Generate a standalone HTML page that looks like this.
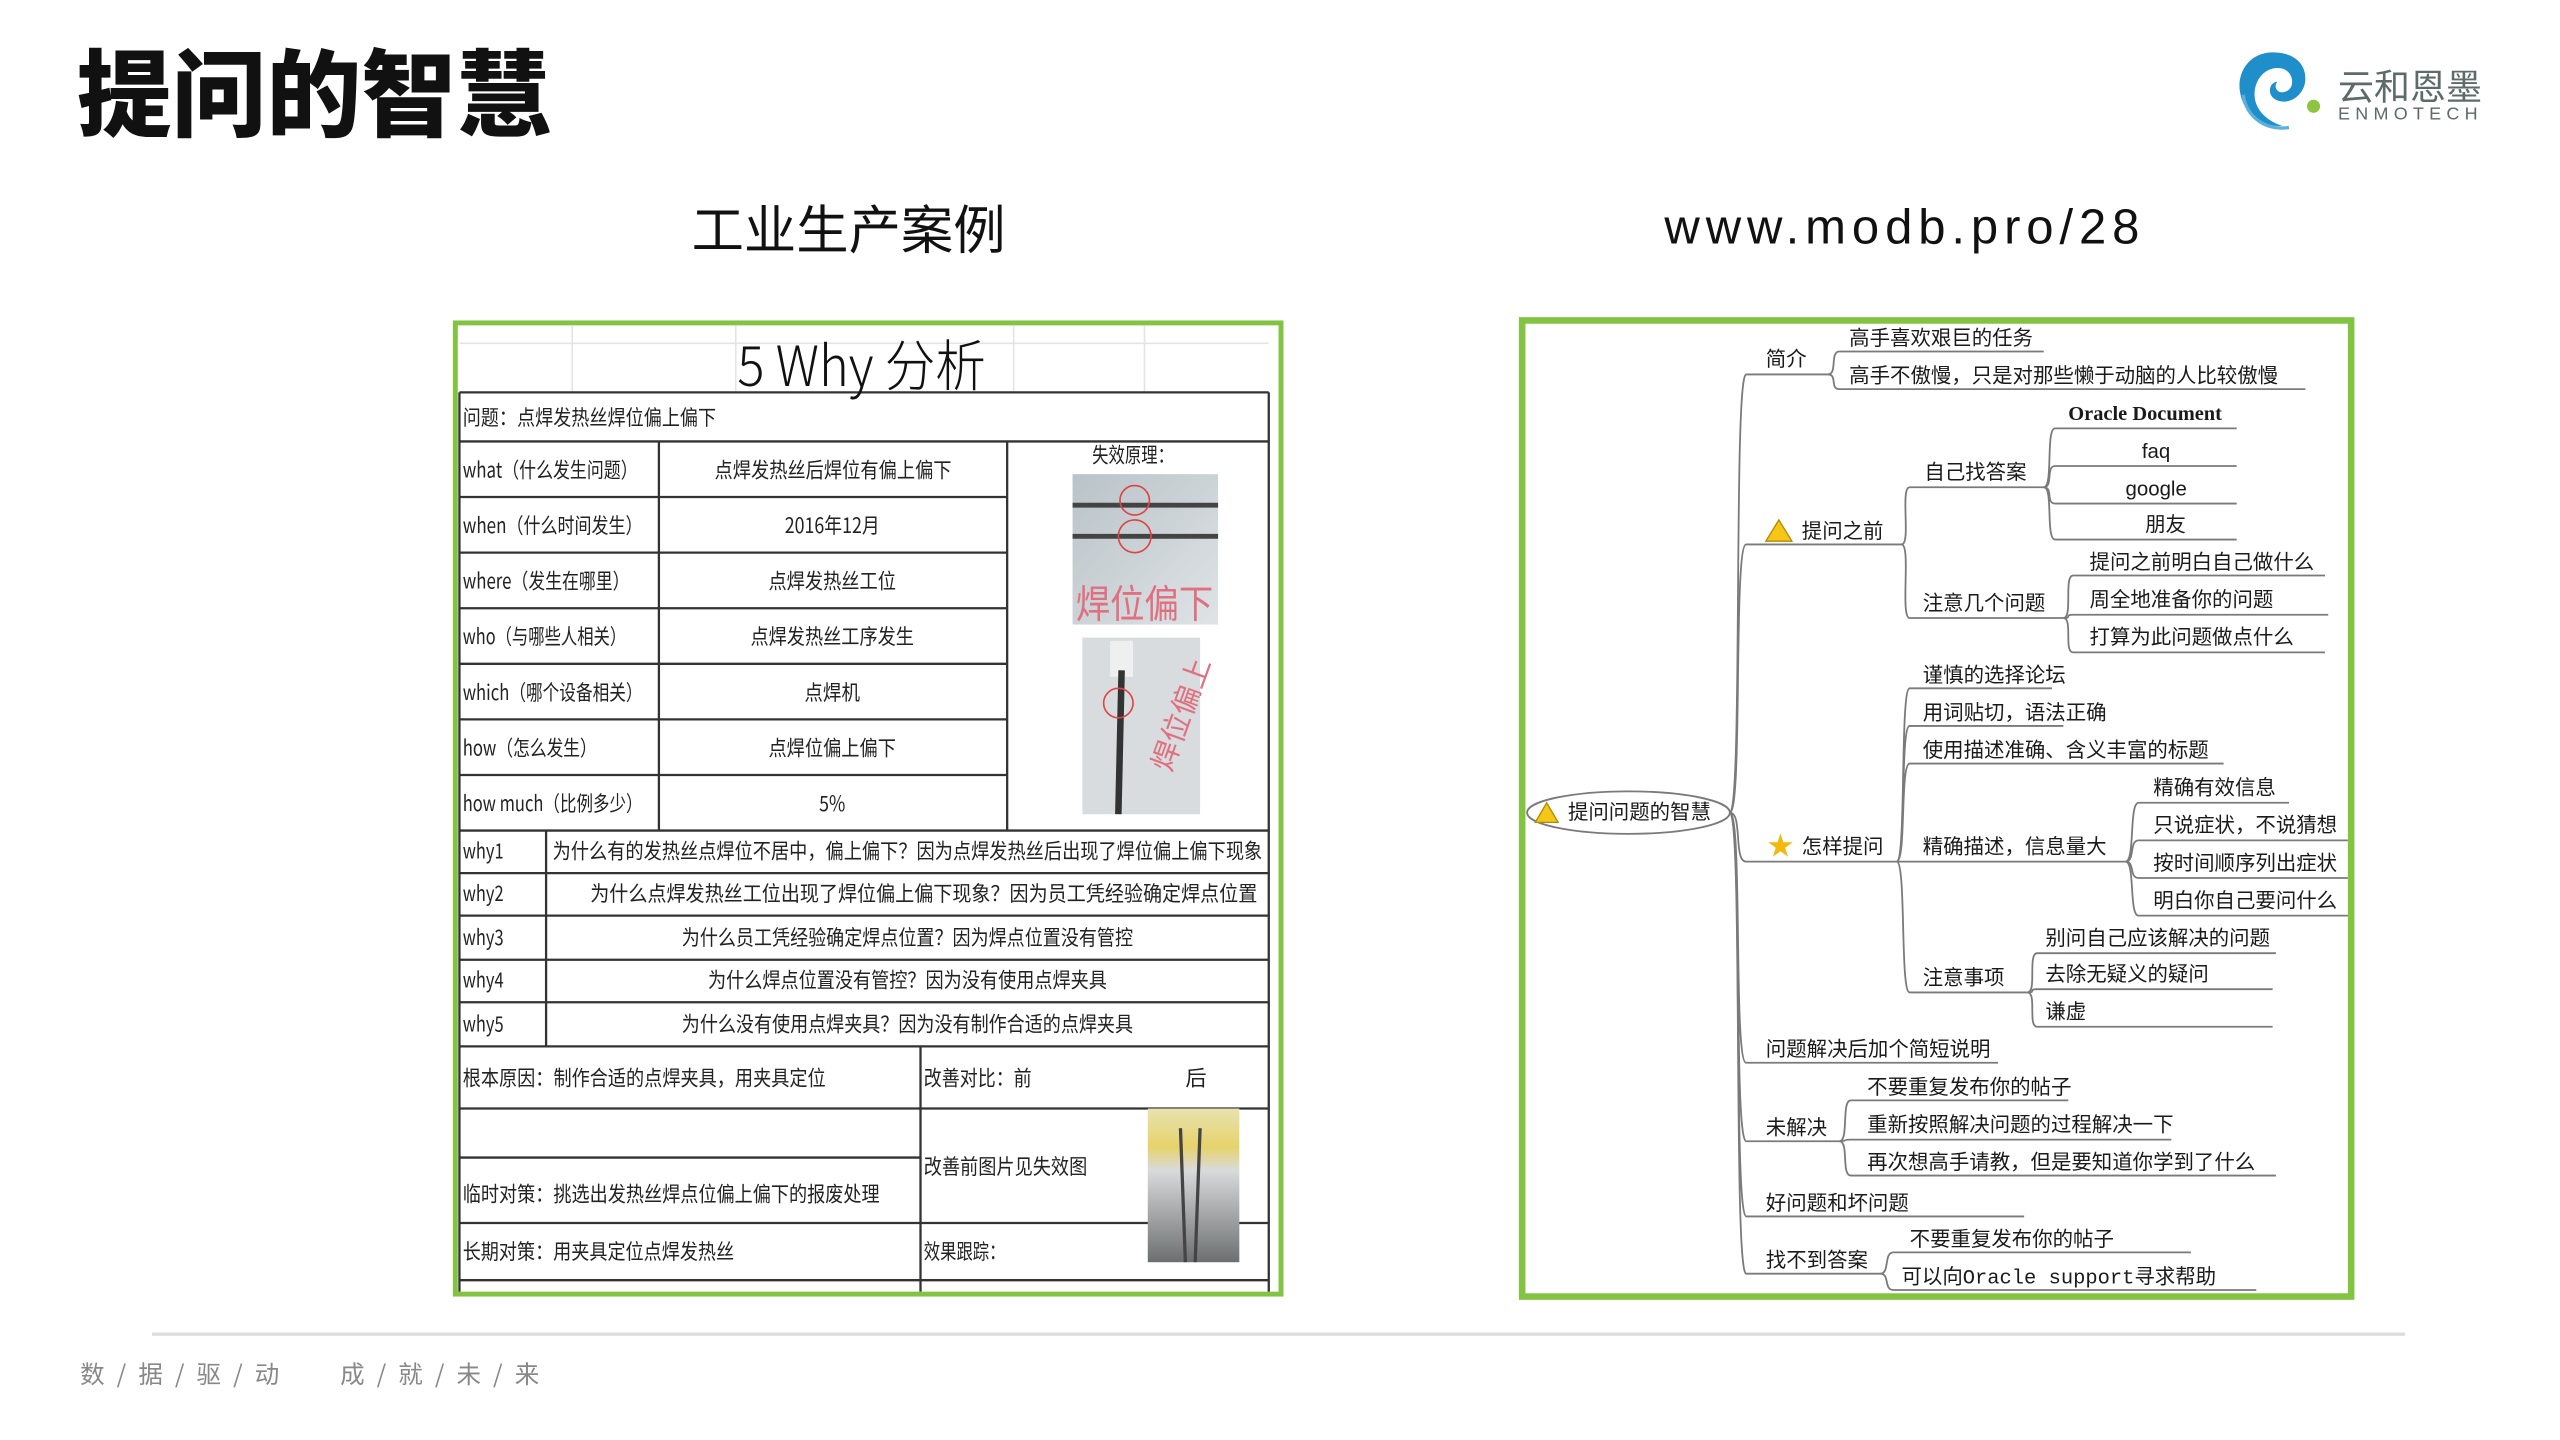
<!DOCTYPE html>
<html><head><meta charset="utf-8">
<style>
html,body{margin:0;padding:0;background:#fff;}
body{width:2560px;height:1440px;overflow:hidden;position:relative;}
#w{position:absolute;left:0;top:0;width:1566px;height:881px;transform:scale(1.635);transform-origin:0 0;font-family:"Liberation Sans","Noto Sans CJK SC",sans-serif;}
.a{position:absolute;white-space:nowrap;}
</style></head><body><div id="w">
<div class="a" style="left:47px;top:14px;font-size:58px;font-weight:900;font-family:'Noto Sans CJK SC',sans-serif;color:#111;line-height:80px;">提问的智慧</div>
<div class="a" style="left:423px;top:116px;font-size:32px;font-family:'Noto Sans CJK SC',sans-serif;color:#111;line-height:46px;">工业生产案例</div>
<div class="a" style="left:1018px;top:120px;font-size:30px;letter-spacing:3.6px;color:#111;line-height:40px;">www.modb.pro/28</div>
<svg class="a" style="left:1366px;top:28px" width="56" height="54" viewBox="0 0 56 54">
<path d="M24 4 C10 4 2 16 4 28 C6 42 18 50 30 49 C20 46 12 38 13 28 C14 18 22 12 30 14 C37 16 38 26 32 28 C27 30 24 25 27 22 C22 22 20 30 26 33 C34 37 44 30 44 20 C44 10 36 4 24 4Z" fill="#1f8fcb"/>
<path d="M6 30 C8 44 20 52 34 50" stroke="#5bb0dd" stroke-width="2" fill="none"/>
<circle cx="49" cy="37" r="4" fill="#8cc63f"/>
</svg>
<div class="a" style="left:1430px;top:38px;font-size:22px;color:#5d6a6a;font-family:'Noto Sans CJK SC',sans-serif;line-height:28px;">云和恩墨</div>
<div class="a" style="left:1430px;top:64px;font-size:11px;color:#5d6a6a;letter-spacing:3.2px;line-height:12px;">ENMOTECH</div>
<div class="a" style="left:93px;top:815px;width:1378px;height:2px;background:#dcdcdc;"></div>
<div class="a" style="left:49px;top:830px;font-size:15px;letter-spacing:2px;color:#888;font-family:'Noto Sans CJK SC',sans-serif;line-height:22px;">数 / 据 / 驱 / 动</div>
<div class="a" style="left:208px;top:830px;font-size:15px;letter-spacing:2px;color:#888;font-family:'Noto Sans CJK SC',sans-serif;line-height:22px;">成 / 就 / 未 / 来</div>

<svg class="a" style="left:0;top:0" width="1549" height="872" viewBox="0 0 1549 872" font-family="'Noto Sans CJK SC',sans-serif" fill="#222">
<rect x="278.5" y="197.5" width="505" height="594" fill="#fff" stroke="#82c341" stroke-width="3"/>
<g stroke="#e4e4e4" stroke-width="1"><line x1="281" y1="210" x2="776" y2="210"/><line x1="350" y1="199" x2="350" y2="240"/><line x1="450" y1="199" x2="450" y2="240"/><line x1="620" y1="199" x2="620" y2="240"/><line x1="700" y1="199" x2="700" y2="240"/></g>
<g stroke="#333" stroke-width="1.4">
<line x1="281" y1="240" x2="776" y2="240"/><line x1="281" y1="270" x2="776" y2="270"/>
<line x1="281" y1="304" x2="616" y2="304"/><line x1="281" y1="338" x2="616" y2="338"/><line x1="281" y1="372" x2="616" y2="372"/><line x1="281" y1="406" x2="616" y2="406"/><line x1="281" y1="440" x2="616" y2="440"/><line x1="281" y1="474" x2="616" y2="474"/>
<line x1="281" y1="508" x2="776" y2="508"/><line x1="281" y1="534" x2="776" y2="534"/><line x1="281" y1="560" x2="776" y2="560"/><line x1="281" y1="587" x2="776" y2="587"/><line x1="281" y1="613" x2="776" y2="613"/><line x1="281" y1="640" x2="776" y2="640"/>
<line x1="281" y1="678" x2="776" y2="678"/><line x1="281" y1="708" x2="563" y2="708"/><line x1="281" y1="748" x2="776" y2="748"/><line x1="281" y1="783" x2="776" y2="783"/>
<line x1="281" y1="240" x2="281" y2="790"/><line x1="776" y1="240" x2="776" y2="790"/>
<line x1="403" y1="270" x2="403" y2="508"/><line x1="616" y1="270" x2="616" y2="508"/>
<line x1="334" y1="508" x2="334" y2="640"/><line x1="563" y1="640" x2="563" y2="790"/>
</g>
<text x="527" y="236" font-size="34" font-weight="300" text-anchor="middle" textLength="152" lengthAdjust="spacingAndGlyphs" fill="#111">5 Why 分析</text>
<g font-size="13">
<text x="283" y="260" textLength="155" lengthAdjust="spacingAndGlyphs">问题：点焊发热丝焊位偏上偏下</text>
<text x="283" y="292" textLength="107" lengthAdjust="spacingAndGlyphs">what（什么发生问题）</text>
<text x="283" y="326" textLength="110" lengthAdjust="spacingAndGlyphs">when（什么时间发生）</text>
<text x="283" y="360" textLength="102" lengthAdjust="spacingAndGlyphs">where（发生在哪里）</text>
<text x="283" y="394" textLength="100" lengthAdjust="spacingAndGlyphs">who（与哪些人相关）</text>
<text x="283" y="428" textLength="110" lengthAdjust="spacingAndGlyphs">which（哪个设备相关）</text>
<text x="283" y="462" textLength="82" lengthAdjust="spacingAndGlyphs">how（怎么发生）</text>
<text x="283" y="496" textLength="110" lengthAdjust="spacingAndGlyphs">how much（比例多少）</text>
<text x="437" y="292" textLength="145" lengthAdjust="spacingAndGlyphs">点焊发热丝后焊位有偏上偏下</text>
<text x="480" y="326" textLength="58" lengthAdjust="spacingAndGlyphs">2016年12月</text>
<text x="470" y="360" textLength="78" lengthAdjust="spacingAndGlyphs">点焊发热丝工位</text>
<text x="459" y="394" textLength="100" lengthAdjust="spacingAndGlyphs">点焊发热丝工序发生</text>
<text x="492" y="428" textLength="34" lengthAdjust="spacingAndGlyphs">点焊机</text>
<text x="470" y="462" textLength="78" lengthAdjust="spacingAndGlyphs">点焊位偏上偏下</text>
<text x="501" y="496" textLength="16" lengthAdjust="spacingAndGlyphs">5%</text>
<text x="668" y="283" textLength="50" lengthAdjust="spacingAndGlyphs">失效原理：</text>
<text x="283" y="525" textLength="25" lengthAdjust="spacingAndGlyphs">why1</text>
<text x="283" y="551" textLength="25" lengthAdjust="spacingAndGlyphs">why2</text>
<text x="283" y="578" textLength="25" lengthAdjust="spacingAndGlyphs">why3</text>
<text x="283" y="604" textLength="25" lengthAdjust="spacingAndGlyphs">why4</text>
<text x="283" y="631" textLength="25" lengthAdjust="spacingAndGlyphs">why5</text>
<text x="338" y="525" textLength="434" lengthAdjust="spacingAndGlyphs">为什么有的发热丝点焊位不居中，偏上偏下？因为点焊发热丝后出现了焊位偏上偏下现象</text>
<text x="361" y="551" textLength="408" lengthAdjust="spacingAndGlyphs">为什么点焊发热丝工位出现了焊位偏上偏下现象？因为员工凭经验确定焊点位置</text>
<text x="417" y="578" textLength="276" lengthAdjust="spacingAndGlyphs">为什么员工凭经验确定焊点位置？因为焊点位置没有管控</text>
<text x="433" y="604" textLength="244" lengthAdjust="spacingAndGlyphs">为什么焊点位置没有管控？因为没有使用点焊夹具</text>
<text x="417" y="631" textLength="276" lengthAdjust="spacingAndGlyphs">为什么没有使用点焊夹具？因为没有制作合适的点焊夹具</text>
<text x="283" y="664" textLength="222" lengthAdjust="spacingAndGlyphs">根本原因：制作合适的点焊夹具，用夹具定位</text>
<text x="565" y="664" textLength="66" lengthAdjust="spacingAndGlyphs">改善对比：前</text>
<text x="725" y="664">后</text>
<text x="283" y="735" textLength="255" lengthAdjust="spacingAndGlyphs">临时对策：挑选出发热丝焊点位偏上偏下的报废处理</text>
<text x="565" y="718" textLength="100" lengthAdjust="spacingAndGlyphs">改善前图片见失效图</text>
<text x="283" y="770" textLength="166" lengthAdjust="spacingAndGlyphs">长期对策：用夹具定位点焊发热丝</text>
<text x="565" y="770" textLength="50" lengthAdjust="spacingAndGlyphs">效果跟踪：</text>
</g>
<defs><linearGradient id="g1" x1="0" y1="0" x2="1" y2="1"><stop offset="0" stop-color="#b9c3c8"/><stop offset="1" stop-color="#dfe3e6"/></linearGradient>
<linearGradient id="g3" x1="0" y1="0" x2="0" y2="1"><stop offset="0" stop-color="#e8e2b0"/><stop offset="0.25" stop-color="#e6d36a"/><stop offset="0.4" stop-color="#d9dadb"/><stop offset="1" stop-color="#6c6f70"/></linearGradient></defs>
<rect x="656" y="290" width="89" height="92" fill="url(#g1)"/>
<line x1="656" y1="309" x2="745" y2="309" stroke="#444" stroke-width="3"/>
<line x1="656" y1="328" x2="745" y2="328" stroke="#444" stroke-width="3"/>
<circle cx="694" cy="306" r="9" fill="none" stroke="#d44" stroke-width="1"/>
<circle cx="694" cy="328" r="10" fill="none" stroke="#d44" stroke-width="1"/>
<text x="658" y="378" font-size="24" fill="#e07080" textLength="84" lengthAdjust="spacingAndGlyphs">焊位偏下</text>
<rect x="662" y="390" width="72" height="108" fill="#d8dcdf"/>
<rect x="679" y="392" width="14" height="22" fill="#eef0f0"/>
<line x1="686" y1="410" x2="684" y2="498" stroke="#333" stroke-width="4"/>
<circle cx="684" cy="430" r="9" fill="none" stroke="#d44" stroke-width="1"/>
<text x="700" y="470" font-size="18" fill="#e07080" transform="rotate(-70 710 460)">焊位偏上</text>
<rect x="702" y="678" width="56" height="94" fill="url(#g3)"/>
<line x1="722" y1="690" x2="725" y2="772" stroke="#444" stroke-width="2"/>
<line x1="734" y1="690" x2="731" y2="772" stroke="#444" stroke-width="2"/>
</svg>

<svg class="a" style="left:0;top:0" width="1549" height="872" viewBox="0 0 1549 872" font-family="'Noto Sans CJK SC',sans-serif" fill="#1a1a1a" font-size="12.5">
<rect x="931" y="196" width="507" height="597" fill="#fff" stroke="#82c341" stroke-width="4"/>
<g stroke="#7a7a7a" stroke-width="1.1" fill="none">
<ellipse cx="996" cy="497" rx="62" ry="13"/>
<path d="M1058 497 C1066 497 1060 229 1068 229 H1118"/>
<path d="M1058 497 C1066 497 1060 333 1068 333 H1163"/>
<path d="M1058 497 C1066 497 1060 527 1068 527 H1160"/>
<path d="M1058 497 C1066 497 1060 650 1068 650 H1222"/>
<path d="M1058 497 C1066 497 1060 698 1068 698 H1125"/>
<path d="M1058 497 C1066 497 1060 744 1068 744 H1238"/>
<path d="M1058 497 C1066 497 1060 779 1068 779 H1150"/>
<path d="M1118 229 C1124 229 1119 215 1125 215 H1250"/>
<path d="M1118 229 C1124 229 1119 238 1125 238 H1410"/>
<path d="M1163 333 C1169 333 1162 298 1168 298 H1250"/>
<path d="M1163 333 C1169 333 1162 378 1168 378 H1262"/>
<path d="M1250 298 C1256 298 1251 262 1257 262 H1368"/>
<path d="M1250 298 C1256 298 1251 285 1257 285 H1368"/>
<path d="M1250 298 C1256 298 1251 308 1257 308 H1368"/>
<path d="M1250 298 C1256 298 1251 330 1257 330 H1368"/>
<path d="M1262 378 C1268 378 1262 352 1268 352 H1422"/>
<path d="M1262 378 C1268 378 1262 376 1268 376 H1424"/>
<path d="M1262 378 C1268 378 1262 399 1268 399 H1422"/>
<path d="M1160 527 C1166 527 1162 421 1168 421 H1255"/>
<path d="M1160 527 C1166 527 1162 444 1168 444 H1262"/>
<path d="M1160 527 C1166 527 1162 467 1168 467 H1360"/>
<path d="M1160 527 C1166 527 1162 527 1168 527 H1300"/>
<path d="M1160 527 C1166 527 1162 607 1168 607 H1240"/>
<path d="M1300 527 C1306 527 1302 491 1308 491 H1400"/>
<path d="M1300 527 C1306 527 1302 514 1308 514 H1436"/>
<path d="M1300 527 C1306 527 1302 537 1308 537 H1436"/>
<path d="M1300 527 C1306 527 1302 560 1308 560 H1436"/>
<path d="M1240 607 C1246 607 1240 583 1246 583 H1392"/>
<path d="M1240 607 C1246 607 1240 605 1246 605 H1390"/>
<path d="M1240 607 C1246 607 1240 628 1246 628 H1390"/>
<path d="M1125 698 C1131 698 1126 673 1132 673 H1265"/>
<path d="M1125 698 C1131 698 1126 697 1132 697 H1328"/>
<path d="M1125 698 C1131 698 1126 719 1132 719 H1392"/>
<path d="M1150 779 C1156 779 1152 766 1158 766 H1340"/>
<path d="M1150 779 C1156 779 1152 789 1158 789 H1380"/>
</g>
<path d="M946 491 L953 503 L939 503Z" fill="#f5c518" stroke="#b08a00" stroke-width="0.8"/>
<path d="M1088 318 L1096 331 L1080 331Z" fill="#f5c518" stroke="#b08a00" stroke-width="0.8"/>
<text x="1081" y="523" font-size="16" fill="#f2b90f">★</text>
<text x="959" y="501">提问问题的智慧</text>
<text x="1080" y="224">简介</text>
<text x="1131" y="211">高手喜欢艰巨的任务</text>
<text x="1131" y="234">高手不傲慢，只是对那些懒于动脑的人比较傲慢</text>
<text x="1102" y="329">提问之前</text>
<text x="1177" y="293">自己找答案</text>
<text x="1265" y="257" font-family="'Liberation Serif',serif" font-weight="bold">Oracle Document</text>
<text x="1310" y="280" font-family="'Liberation Sans',sans-serif">faq</text>
<text x="1300" y="303" font-family="'Liberation Sans',sans-serif">google</text>
<text x="1312" y="325">朋友</text>
<text x="1176" y="373">注意几个问题</text>
<text x="1278" y="348">提问之前明白自己做什么</text>
<text x="1278" y="371">周全地准备你的问题</text>
<text x="1278" y="394">打算为此问题做点什么</text>
<text x="1102" y="522">怎样提问</text>
<text x="1176" y="417">谨慎的选择论坛</text>
<text x="1176" y="440">用词贴切，语法正确</text>
<text x="1176" y="463">使用描述准确、含义丰富的标题</text>
<text x="1176" y="522">精确描述，信息量大</text>
<text x="1317" y="486">精确有效信息</text>
<text x="1317" y="509">只说症状，不说猜想</text>
<text x="1317" y="532">按时间顺序列出症状</text>
<text x="1317" y="555">明白你自己要问什么</text>
<text x="1176" y="602">注意事项</text>
<text x="1251" y="578">别问自己应该解决的问题</text>
<text x="1251" y="600">去除无疑义的疑问</text>
<text x="1251" y="623">谦虚</text>
<text x="1080" y="646">问题解决后加个简短说明</text>
<text x="1080" y="694">未解决</text>
<text x="1142" y="669">不要重复发布你的帖子</text>
<text x="1142" y="692">重新按照解决问题的过程解决一下</text>
<text x="1142" y="715">再次想高手请教，但是要知道你学到了什么</text>
<text x="1080" y="740">好问题和坏问题</text>
<text x="1080" y="775">找不到答案</text>
<text x="1168" y="762">不要重复发布你的帖子</text>
<text x="1163" y="785">可以向<tspan font-family="'Liberation Mono',monospace">Oracle support</tspan>寻求帮助</text>
</svg>
</div></body></html>
